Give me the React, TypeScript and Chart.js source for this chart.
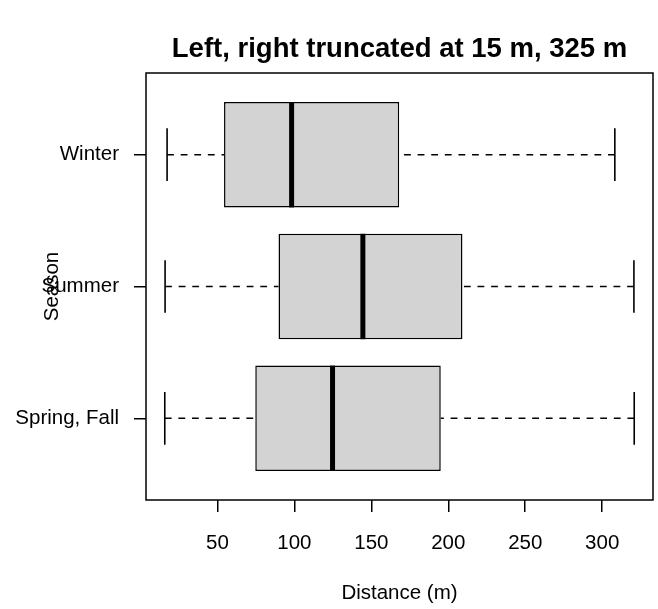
import React, { useEffect, useRef } from "react";
import { Chart, registerables } from "chart.js";

Chart.register(...registerables);

// Categories bottom-to-top (positions 1, 2, 3)
const categories = ["Spring, Fall", "Summer", "Winter"];
const whiskerLow = [15.8, 16.0, 17.3];
const q1 = [74.6, 89.7, 54.3];
const median = [124.8, 144.5, 98.2];
const q3 = [195.1, 209.2, 168.1];
const whiskerHigh = [320.8, 320.6, 308.2];
const xTicks = [50, 100, 150, 200, 250, 300];
const titleText = "Left, right truncated at 15 m, 325 m";
const xLabel = "Distance (m)";
const yLabel = "Season";

const FONT = "'Liberation Sans', Arial, Helvetica, sans-serif";

const dataMin = Math.min(...whiskerLow);
const dataMax = Math.max(...whiskerHigh);
const ext = (dataMax - dataMin) * 0.04;

const boxParts = {
  id: "boxParts",
  beforeDatasetsDraw(chart: any) {
    const { ctx } = chart;
    const x = chart.scales.x;
    const y = chart.scales.y;
    const meta = chart.getDatasetMeta(0);
    ctx.save();
    ctx.strokeStyle = "#000";
    ctx.lineWidth = 1.6;
    categories.forEach((_, i) => {
      const bar: any = meta.data[i];
      const half = bar.height / 2;
      const yc = y.getPixelForValue(i + 1);
      const capHalf = half / 2;
      ctx.setLineDash([6.8, 6.8]);
      ctx.beginPath();
      ctx.moveTo(x.getPixelForValue(whiskerLow[i]), yc);
      ctx.lineTo(x.getPixelForValue(q1[i]), yc);
      ctx.moveTo(x.getPixelForValue(whiskerHigh[i]), yc);
      ctx.lineTo(x.getPixelForValue(q3[i]), yc);
      ctx.stroke();
      ctx.setLineDash([]);
      ctx.beginPath();
      const xl = x.getPixelForValue(whiskerLow[i]);
      const xh = x.getPixelForValue(whiskerHigh[i]);
      ctx.moveTo(xl, yc - capHalf);
      ctx.lineTo(xl, yc + capHalf);
      ctx.moveTo(xh, yc - capHalf);
      ctx.lineTo(xh, yc + capHalf);
      ctx.stroke();
    });
    ctx.restore();
  },
  afterDatasetsDraw(chart: any) {
    const { ctx } = chart;
    const x = chart.scales.x;
    const y = chart.scales.y;
    const meta = chart.getDatasetMeta(0);
    ctx.save();
    ctx.strokeStyle = "#000";
    ctx.lineWidth = 5;
    ctx.lineCap = "butt";
    categories.forEach((_, i) => {
      const bar: any = meta.data[i];
      const half = bar.height / 2;
      const yc = y.getPixelForValue(i + 1);
      const xm = x.getPixelForValue(median[i]);
      ctx.beginPath();
      ctx.moveTo(xm, yc - half);
      ctx.lineTo(xm, yc + half);
      ctx.stroke();
    });
    ctx.restore();
  },
  afterDraw(chart: any) {
    const { ctx, chartArea } = chart;
    ctx.save();
    ctx.strokeStyle = "#000";
    ctx.lineWidth = 1.5;
    ctx.strokeRect(chartArea.left, chartArea.top, chartArea.right - chartArea.left, chartArea.bottom - chartArea.top);
    ctx.restore();
  },
};

export default function App() {
  const ref = useRef<HTMLCanvasElement | null>(null);
  useEffect(() => {
    if (!ref.current) return;
    Chart.defaults.font.family = FONT;
    Chart.defaults.color = "#000";
    const chart = new Chart(ref.current, {
      type: "bar",
      data: {
        datasets: [
          {
            data: categories.map((_, i) => ({ x: [q1[i], q3[i]], y: i + 1 })) as any,
            backgroundColor: "#d3d3d3",
            borderColor: "#000",
            borderWidth: 1.5,
            borderSkipped: false,
            barPercentage: 0.8,
            categoryPercentage: 1,
          },
        ],
      },
      options: {
        indexAxis: "y",
        animation: false,
        responsive: false,
        events: [],
        layout: { padding: { left: 0, right: 5, top: 0, bottom: 0 } },
        plugins: {
          legend: { display: false },
          tooltip: { enabled: false },
          title: {
            display: true,
            text: titleText,
            fullSize: false,
            color: "#000",
            font: { family: FONT, size: 27.5, weight: "bold", lineHeight: 1.2 },
            padding: { top: 32.5, bottom: 7.5 },
          },
        },
        scales: {
          x: {
            type: "linear",
            position: "bottom",
            offset: false,
            min: dataMin - ext,
            max: dataMax + ext,
            afterBuildTicks: (s: any) => {
              s.ticks = xTicks.map((v) => ({ value: v }));
            },
            afterFit: (s: any) => {
              s.height = 109;
            },
            grid: {
              display: true,
              offset: false,
              drawOnChartArea: false,
              drawTicks: true,
              tickLength: 12,
              color: "#000",
              lineWidth: 1.5,
            },
            border: { display: false },
            ticks: {
              color: "#000",
              font: { family: FONT, size: 20.5 },
              padding: 19,
              maxRotation: 0,
              autoSkip: false,
            },
            title: {
              display: true,
              text: xLabel,
              color: "#000",
              font: { family: FONT, size: 20.5, lineHeight: 1.2 },
              padding: { top: 0, bottom: 3.7 },
            },
          },
          y: {
            type: "linear",
            offset: false,
            min: 0.38,
            max: 3.62,
            afterBuildTicks: (s: any) => {
              s.ticks = categories.map((_, i) => ({ value: i + 1 }));
            },
            afterFit: (s: any) => {
              s.width = 146;
            },
            grid: {
              display: true,
              offset: false,
              drawOnChartArea: false,
              drawTicks: true,
              tickLength: 12,
              color: "#000",
              lineWidth: 1.5,
            },
            border: { display: false },
            ticks: {
              color: "#000",
              font: { family: FONT, size: 20.5 },
              padding: 15,
              autoSkip: false,
              callback: (v: any) => categories[Math.round(Number(v)) - 1] ?? "",
            },
            title: {
              display: true,
              text: yLabel,
              color: "#000",
              font: { family: FONT, size: 20.5, lineHeight: 1.2 },
              padding: { top: 40, bottom: 0 },
            },
          },
        },
      },
      plugins: [boxParts],
    });
    return () => chart.destroy();
  }, []);
  return (
    <div style={{ position: "fixed", left: 0, top: 0, width: 658, height: 609, background: "#fff" }}>
      <canvas ref={ref} width={658} height={609} style={{ display: "block" }} />
    </div>
  );
}
